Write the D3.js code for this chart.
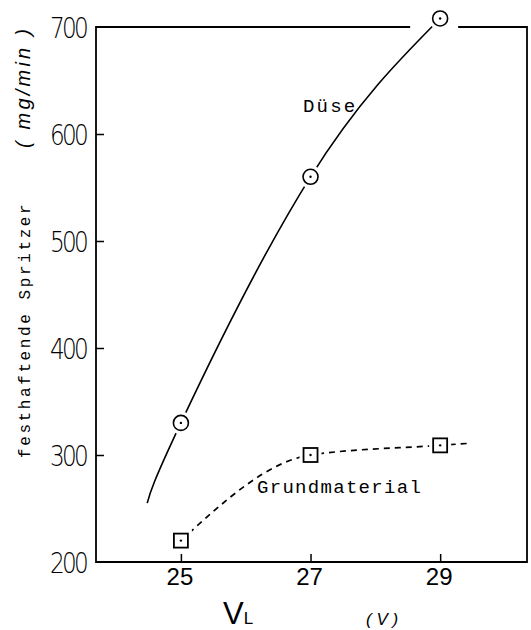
<!DOCTYPE html>
<html>
<head>
<meta charset="utf-8">
<script src="https://cdn.jsdelivr.net/npm/d3@7"></script>
<style>
  body { margin: 0; background: #fff; }
  svg { display: block; }
</style>
</head>
<body>
<script>
// values
var xTicks = [25, 27, 29];
var yTicks = [200, 300, 400, 500, 600, 700];

var duseX = [25, 27, 29];
var duseY = [330, 560, 708];
var grundX = [25, 27, 29];
var grundY = [220, 300, 309];

// curve runs a little past the measured points
var duseCurve = [[24.48, 255], [25, 330], [27, 560], [29, 708]];
var grundCurve = [[25, 220], [27, 300], [29, 309], [29.47, 311]];

var W = 531, H = 630;
var mLeft = 96, mRight = 527, mTop = 27, mBottom = 562;

var svg = d3.select('body').append('svg').attr('width', W).attr('height', H);

var x = d3.scaleLinear().domain([23.69, 30.34]).range([mLeft, mRight]);
var y = d3.scaleLinear().domain([200, 700]).range([mBottom, mTop]);

var line = d3.line()
  .x(function(d) { return x(d[0]); })
  .y(function(d) { return y(d[1]); });

// curves
svg.append('path')
  .attr('d', line.curve(d3.curveNatural)(duseCurve))
  .attr('fill', 'none').attr('stroke', '#000').attr('stroke-width', 1.6);

svg.append('path')
  .attr('d', line.curve(d3.curveMonotoneX)(grundCurve))
  .attr('fill', 'none').attr('stroke', '#000').attr('stroke-width', 1.7)
  .attr('stroke-dasharray', '6,5');

// frame, top edge broken round the last circle
var frame = svg.append('g').attr('stroke', '#000').attr('stroke-width', 1.8).attr('fill', 'none');
frame.append('path').attr('d', 'M' + (x(29) - 30) + ',' + mTop + 'H' + mLeft + 'V' + mBottom + 'H' + mRight + 'V' + mTop + 'H' + (x(29) + 18));

// ticks (inward)
svg.append('g')
  .attr('transform', 'translate(' + mLeft + ',0)')
  .call(d3.axisRight(y).tickValues(yTicks.slice(1, 5)).tickSize(8).tickFormat(''))
  .call(function(g) { g.select('.domain').remove(); g.selectAll('line').attr('stroke-width', 1.5); });

svg.append('g')
  .attr('transform', 'translate(0,' + mBottom + ')')
  .call(d3.axisTop(x).tickValues(xTicks).tickSize(8).tickFormat(''))
  .call(function(g) { g.select('.domain').remove(); g.selectAll('line').attr('stroke-width', 1.5); });

// tick labels: tall narrow thin digits, squeezed sideways
svg.append('g').selectAll('text').data(yTicks).enter().append('text')
  .attr('transform', function(d) { return 'translate(86,' + (y(d) + 10.5) + ') scale(0.8,1)'; })
  .attr('text-anchor', 'end')
  .attr('font-family', 'DejaVu Sans, Liberation Sans, sans-serif').attr('font-weight', 200)
  .attr('font-size', 29).attr('letter-spacing', -3.5)
  .text(function(d) { return d; });

svg.append('g').selectAll('text').data(xTicks).enter().append('text')
  .attr('x', function(d) { return x(d) - 1; }).attr('y', 585)
  .attr('text-anchor', 'middle')
  .attr('font-family', 'Liberation Sans, Arial, sans-serif')
  .attr('font-size', 24)
  .text(function(d) { return d; });

// markers
function markers(xs, ys, shape) {
  var g = svg.append('g').selectAll('g').data(xs).enter().append('g')
    .attr('transform', function(d, i) { return 'translate(' + x(d) + ',' + y(ys[i]) + ')'; });
  if (shape == 'c') {
    g.append('circle').attr('r', 7.5).attr('fill', '#fff').attr('stroke', '#fff').attr('stroke-width', 8);
    g.append('circle').attr('r', 7.5).attr('fill', '#fff').attr('stroke', '#000').attr('stroke-width', 1.6);
  } else {
    g.append('rect').attr('x', -7).attr('y', -7).attr('width', 14).attr('height', 14)
      .attr('fill', '#fff').attr('stroke', '#fff').attr('stroke-width', 8);
    g.append('rect').attr('x', -7).attr('y', -7).attr('width', 14).attr('height', 14)
      .attr('fill', '#fff').attr('stroke', '#000').attr('stroke-width', 1.8);
  }
  g.append('circle').attr('r', 1.2).attr('fill', '#000');
}
markers(duseX, duseY, 'c');
markers(grundX, grundY, 's');

// series labels
var mono = 'Liberation Mono, Courier New, monospace';
svg.append('text').attr('x', 303).attr('y', 112)
  .attr('font-family', mono).attr('font-size', 19).attr('letter-spacing', 2.2)
  .text('Düse');
svg.append('text').attr('x', 257).attr('y', 493)
  .attr('font-family', mono).attr('font-size', 19).attr('letter-spacing', 1.3)
  .text('Grundmaterial');

// y axis title
svg.append('text')
  .attr('transform', 'translate(30,458) rotate(-90)')
  .attr('font-family', mono).attr('font-size', 16).attr('letter-spacing', 2.6)
  .text('festhaftende Spritzer');
svg.append('text')
  .attr('transform', 'translate(30,148) rotate(-90)')
  .attr('font-family', 'Liberation Sans, Arial, sans-serif').attr('font-style', 'italic')
  .attr('font-size', 20).attr('letter-spacing', 3.2)
  .text('( mg/min )');

// x axis title
var xt = svg.append('text').attr('x', 223).attr('y', 624)
  .attr('font-family', 'Liberation Sans, Arial, sans-serif');
xt.append('tspan').attr('font-size', 31).text('V');
xt.append('tspan').attr('font-size', 17).text('L');

svg.append('text').attr('x', 366).attr('y', 625)
  .attr('font-family', 'Liberation Sans, Arial, sans-serif').attr('font-size', 17)
  .attr('font-style', 'italic')
  .text('( V )');
</script>
</body>
</html>
